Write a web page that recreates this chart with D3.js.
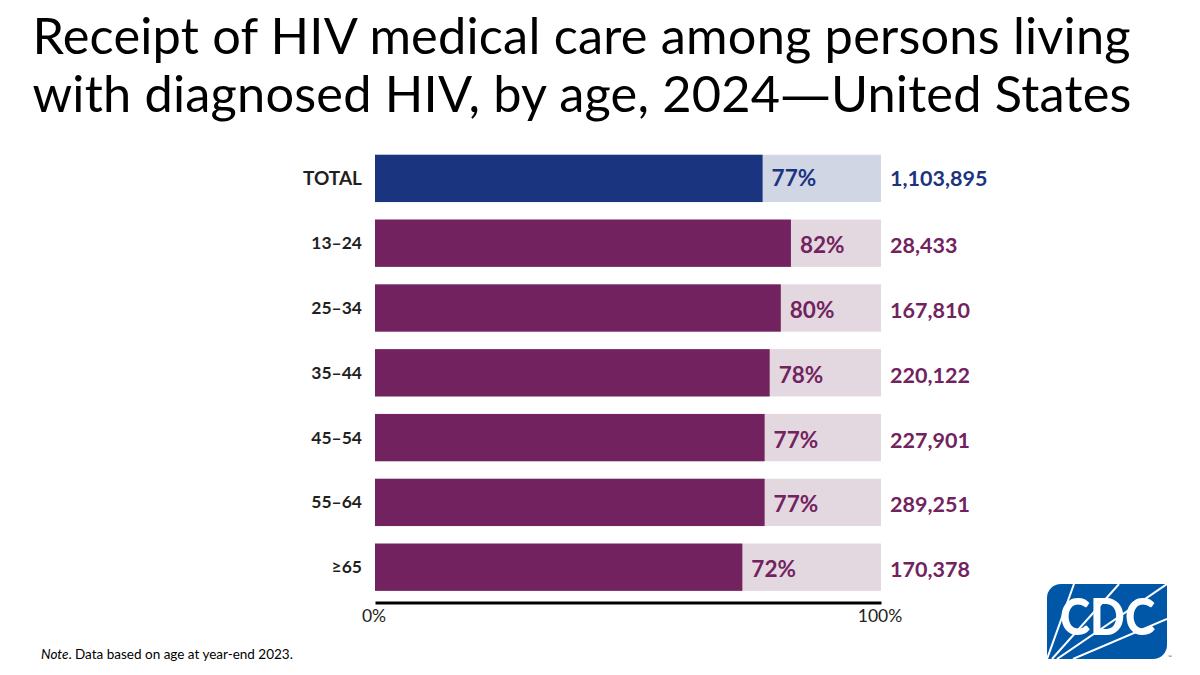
<!DOCTYPE html>
<html><head><meta charset="utf-8">
<script src="https://cdn.jsdelivr.net/npm/d3@7"></script>
<style>
html,body{margin:0;padding:0;background:#fff}
svg{display:block}
text{font-family:Lato,"Open Sans",sans-serif}
</style></head><body>
<svg id="c" width="1200" height="675"></svg>
<script>
const titleLine1 = ["Receipt of HIV medical care among persons living"];
const titleLine2 = ["with diagnosed HIV, by age, 2024","—","United States"];
const categories = ["TOTAL","13–24","25–34","35–44","45–54","55–64","≥65"];
const barValues = [76.6,82.2,80.2,78.0,77.0,77.0,72.6];
const percentLabels = ["77%","82%","80%","78%","77%","77%","72%"];
const counts = ["1,103,895","28,433","167,810","220,122","227,901","289,251","170,378"];
const axisTicks = [0,100];
const noteLead = "Note";
const noteRest = ". Data based on age at year-end 2023.";

const navy="#1b3480", navyLight="#d1d6e5", purple="#72235f", purpleLight="#e3d7e0";
const svg=d3.select("#c");
const x=d3.scaleLinear().domain([0,100]).range([375,881]);
const y=d3.scaleBand().domain(categories).range([146,599.6]).paddingInner(0.27).paddingOuter(0.135);
const isTotal=d=>d==="TOTAL";
const dark=d=>isTotal(d)?navy:purple, light=d=>isTotal(d)?navyLight:purpleLight;
const labelShift=d=>isTotal(d)?0:2;

const t1=svg.append("text").attr("x",32.5).attr("y",54).attr("font-size",50.5).attr("letter-spacing",0.2).attr("fill","#000").text(titleLine1[0]);
const t2=svg.append("text").attr("x",32.5).attr("y",112).attr("font-size",50.5).attr("letter-spacing",0.2).attr("fill","#000");
t2.selectAll("tspan").data(titleLine2).join("tspan").attr("font-family",d=>d==="—"?"DejaVu Sans":null).text(d=>d);

const rows=svg.append("g").selectAll("g").data(categories).join("g");
rows.append("rect").attr("x",x(0)).attr("y",d=>y(d)).attr("width",x(100)-x(0)).attr("height",y.bandwidth()).attr("fill",d=>light(d));
rows.append("rect").attr("x",x(0)).attr("y",d=>y(d)).attr("width",(d,i)=>x(barValues[i])-x(0)).attr("height",y.bandwidth()).attr("fill",d=>dark(d));
rows.append("text").attr("x",362).attr("y",d=>y(d)+y.bandwidth()/2+6+(isTotal(d)?1:0)).attr("text-anchor","end").attr("font-size",d=>isTotal(d)?19:17.5).attr("font-weight",700).attr("fill","#231f20").text(d=>d);
rows.append("text").attr("x",(d,i)=>x(barValues[i])+9).attr("y",d=>y(d)+y.bandwidth()/2+8+labelShift(d)).attr("font-size",22.5).attr("font-weight",700).attr("fill",d=>dark(d)).text((d,i)=>percentLabels[i]);
rows.append("text").attr("x",890).attr("y",d=>y(d)+y.bandwidth()/2+8+labelShift(d)).attr("font-size",21.5).attr("font-weight",700).attr("fill",d=>dark(d)).text((d,i)=>counts[i]);

const ax=svg.append("g").attr("transform","translate(0,602.5)").call(d3.axisBottom(x).tickValues(axisTicks).tickSize(0).tickFormat(d=>d+"%"));
ax.select(".domain").attr("stroke","#000").attr("stroke-width",3);
ax.selectAll("text").attr("font-size",17.5).attr("font-family","Lato").attr("fill","#231f20").attr("dy",0).attr("y",19).attr("dx",-1.5);

const note=svg.append("text").attr("x",41).attr("y",659).attr("font-size",13.5).attr("fill","#000");
note.append("tspan").attr("font-style","italic").text(noteLead);
note.append("tspan").text(noteRest);

// CDC logo
const logo=svg.append("g");
const clipPath="M1061,584H1167V645A14,14 0 0 1 1153,659H1047V598A14,14 0 0 1 1061,584Z";
logo.append("clipPath").attr("id","lc").append("path").attr("d",clipPath);
logo.append("path").attr("d",clipPath).attr("fill","#0057a8");
const rays=logo.append("g").attr("clip-path","url(#lc)").attr("stroke","#fff").attr("stroke-width",2);
[[1047,659,1074,584],[1052,659,1119,584],[1057,659,1167,584],[1073,659,1167,619]].forEach(r=>rays.append("line").attr("x1",r[0]).attr("y1",r[1]).attr("x2",r[2]).attr("y2",r[3]));
logo.append("text").attr("x",1060).attr("y",635).attr("font-size",52).attr("font-weight",900).attr("textLength",95).attr("lengthAdjust","spacingAndGlyphs").attr("fill","#fff").text("CDC");
logo.append("text").attr("x",1168).attr("y",659).attr("font-size",5).attr("fill","#0057a8").text("™");
</script></body></html>
